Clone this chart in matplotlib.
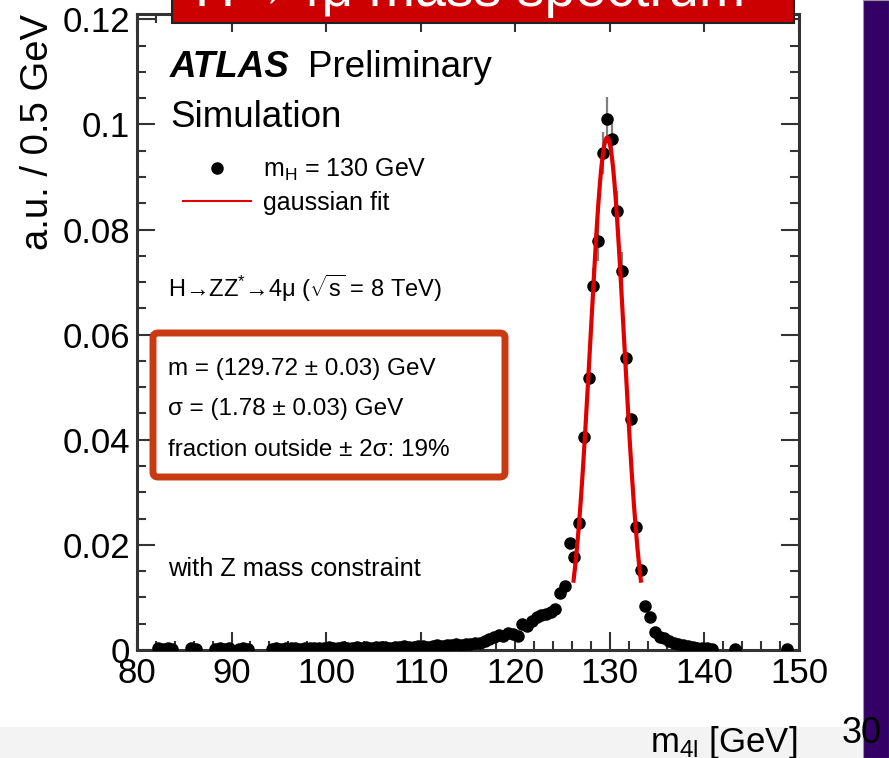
import numpy as np
import matplotlib.pyplot as plt
from matplotlib.patches import Rectangle, FancyBboxPatch
from matplotlib.lines import Line2D
from matplotlib.ticker import MultipleLocator, FuncFormatter

plt.rcParams['font.family'] = ['Liberation Sans', 'DejaVu Sans']
plt.rcParams['mathtext.fontset'] = 'custom'
plt.rcParams['mathtext.rm'] = 'Liberation Sans'
plt.rcParams['mathtext.it'] = 'Liberation Sans:italic'

# 0.5 GeV bins that have entries (m_4l in GeV, a.u.)
mass = [82.25, 82.75, 83.25, 83.75, 85.75, 86.25,
        88.25, 88.75, 89.25, 89.75, 90.75, 91.25, 91.75,
        94.25, 94.75, 95.25, 95.75, 96.25, 96.75, 97.25, 97.75, 98.25, 98.75,
        99.25, 99.75, 100.25, 100.75, 101.25, 101.75, 102.25, 102.75, 103.25,
        103.75, 104.25, 104.75, 105.25, 105.75, 106.25, 106.75, 107.25, 107.75,
        108.25, 108.75, 109.25, 109.75, 110.25, 110.75, 111.25, 111.75, 112.25,
        112.75, 113.25, 113.75, 114.25, 114.75, 115.25, 115.75, 116.25, 116.75,
        117.25, 117.75, 118.25, 118.75, 119.25, 119.75, 120.25, 120.75, 121.25,
        121.75, 122.25, 122.75, 123.25, 123.75, 124.25, 124.75, 125.25, 125.75,
        126.25, 126.75, 127.25, 127.75, 128.25, 128.75, 129.25, 129.75, 130.25,
        130.75, 131.25, 131.75, 132.25, 132.75, 133.25, 133.75, 134.25, 134.75,
        135.25, 135.75, 136.25, 136.75, 137.25, 137.75, 138.25, 138.75, 139.25,
        139.75, 140.25, 140.75, 143.25, 148.75]
au = [0.0003, 0.0002, 0.0003, 0.0002, 0.0003, 0.0002,
      0.0002, 0.0003, 0.0002, 0.0003, 0.0002, 0.0003, 0.0002,
      0.0002, 0.0003, 0.0002, 0.0003, 0.0004, 0.0003, 0.0002, 0.0004, 0.0003, 0.0004,
      0.0003, 0.0004, 0.0005, 0.0003, 0.0004, 0.0005, 0.0004, 0.0003, 0.0005,
      0.0004, 0.0006, 0.0004, 0.0005, 0.0006, 0.0005, 0.0004, 0.0006, 0.0005,
      0.0007, 0.0006, 0.0005, 0.0007, 0.0008, 0.0006, 0.0008, 0.0009, 0.0007,
      0.0010, 0.0009, 0.0011, 0.0010, 0.0012, 0.0011, 0.0014, 0.0013, 0.0017,
      0.0021, 0.0025, 0.0029, 0.0027, 0.0033, 0.0030, 0.0026, 0.0050, 0.0046,
      0.0056, 0.0062, 0.0066, 0.0068, 0.0072, 0.0078, 0.0108, 0.0122, 0.0203,
      0.0177, 0.0241, 0.0405, 0.0517, 0.0692, 0.0778, 0.0945, 0.1010, 0.0973,
      0.0835, 0.0722, 0.0555, 0.0440, 0.0234, 0.0152, 0.0084, 0.0063, 0.0034,
      0.0025, 0.0023, 0.0018, 0.0013, 0.0011, 0.0009, 0.0007, 0.0006, 0.0004,
      0.0003, 0.0003, 0.0002, 0.0002, 0.0002]

# error bars only stick out of the markers around the peak
peak_mass = [128.25, 128.75, 129.25, 129.75, 130.25, 130.75, 131.25]
peak_err = [0.0035, 0.0037, 0.0040, 0.0042, 0.0041, 0.0038, 0.0036]

# gaussian fit quoted on the plot, drawn over +-2 sigma
fit_mean = 129.72
fit_sigma = 1.78
fit_amp = 0.0975

W, H = 889, 758
fig = plt.figure(figsize=(W / 100, H / 100), dpi=100)


def fx(px):
    return px / W


def fy(py):
    return 1 - py / H


ax = fig.add_axes([fx(137), fy(650), fx(799) - fx(137), fy(14) - fy(650)])

pts, = ax.plot(mass, au, 'o', color='black', ms=8, zorder=3)
peak_au = [au[mass.index(m)] for m in peak_mass]
ax.errorbar(peak_mass, peak_au, yerr=peak_err, fmt='none',
            ecolor='#808080', elinewidth=1.6, capsize=0, zorder=2)

xs = np.linspace(fit_mean - 2 * fit_sigma, fit_mean + 2 * fit_sigma, 200)
ys = fit_amp * np.exp(-0.5 * ((xs - fit_mean) / fit_sigma) ** 2)
ax.plot(xs, ys, color='#e00000', lw=3, zorder=4)

ax.set_xlim(80, 150)
ax.set_ylim(0, 0.121)
ax.xaxis.set_major_locator(MultipleLocator(10))
ax.xaxis.set_minor_locator(MultipleLocator(2))
ax.yaxis.set_major_locator(MultipleLocator(0.02))
ax.yaxis.set_minor_locator(MultipleLocator(0.005))
ax.yaxis.set_major_formatter(FuncFormatter(lambda v, p: '%g' % round(v, 3)))
ax.tick_params(which='both', direction='in', top=True, right=True,
               width=1.5, color='#333333', labelsize=25, pad=5)
ax.tick_params(which='major', length=13)
ax.tick_params(which='minor', length=6.5)
for s in ax.spines.values():
    s.set_linewidth(2.2)
    s.set_color('#333333')

# legend
handles = [Line2D([], [], marker='o', ls='none', color='black', ms=8),
           Line2D([], [], color='#e00000', lw=1.5)]
labels = [r'm$_{\mathregular{H}}$ = 130 GeV', 'gaussian fit']
ax.legend(handles, labels, loc='upper left', frameon=False, fontsize=18,
          bbox_to_anchor=(fx(183), fy(157)), bbox_transform=fig.transFigure,
          borderpad=0, borderaxespad=0, handlelength=2.7, handletextpad=0.5,
          labelspacing=0.3)

fig.text(fx(170), fy(77), 'ATLAS', fontsize=26.5, fontweight='bold',
         fontstyle='italic')
fig.text(fx(308), fy(77), 'Preliminary', fontsize=26.5)
fig.text(fx(170), fy(127), 'Simulation', fontsize=26.5)
fig.text(fx(168), fy(297),
         r'H→ZZ$^{*}$→4μ ($\sqrt{\mathregular{s}}$ = 8 TeV)', fontsize=17)
fig.text(fx(168), fy(576), 'with Z mass constraint', fontsize=18.3)

# result box
box = FancyBboxPatch((fx(153), fy(477)), fx(505) - fx(153), fy(333) - fy(477),
                     boxstyle='round,pad=0,rounding_size=0.006',
                     transform=fig.transFigure, facecolor='none',
                     edgecolor='#c93a12', lw=5, zorder=5)
fig.add_artist(box)
box_lines = ['m = (129.72 ± 0.03) GeV', 'σ = (1.78 ± 0.03) GeV',
             'fraction outside ± 2σ: 19%']
for line, base in zip(box_lines, [375, 415, 456]):
    fig.text(fx(168), fy(base), line, fontsize=17.5, zorder=6)

# axis titles
fig.text(fx(38), fy(14), 'a.u. / 0.5 GeV', rotation=90, ha='center',
         va='top', fontsize=27.5)
fig.text(fx(797), fy(752), r'm$_{\mathregular{4l}}$ [GeV]', ha='right',
         va='baseline', fontsize=25)

# slide decorations: grey footer, purple side bar, red title banner
fig.add_artist(Rectangle((0, 0), fx(863), fy(727), transform=fig.transFigure,
                         facecolor='#f3f3f3', edgecolor='none', zorder=-1))
fig.add_artist(Rectangle((fx(863), 0), 1 - fx(863), 1,
                         transform=fig.transFigure, facecolor='#330066',
                         edgecolor='#999999', lw=0.8, zorder=1))
fig.text(fx(842), fy(743), '30', fontsize=26, zorder=3)
fig.add_artist(Rectangle((fx(172), fy(22.7)), fx(794) - fx(172), 0.05,
                         transform=fig.transFigure, facecolor='#cc0000',
                         edgecolor='#222222', lw=1.5, zorder=10))
fig.text(fx(470), fy(6), 'H→4μ mass spectrum', ha='center', va='baseline',
         color='white', fontsize=40, zorder=11)

fig.savefig('out.png', dpi=100)
